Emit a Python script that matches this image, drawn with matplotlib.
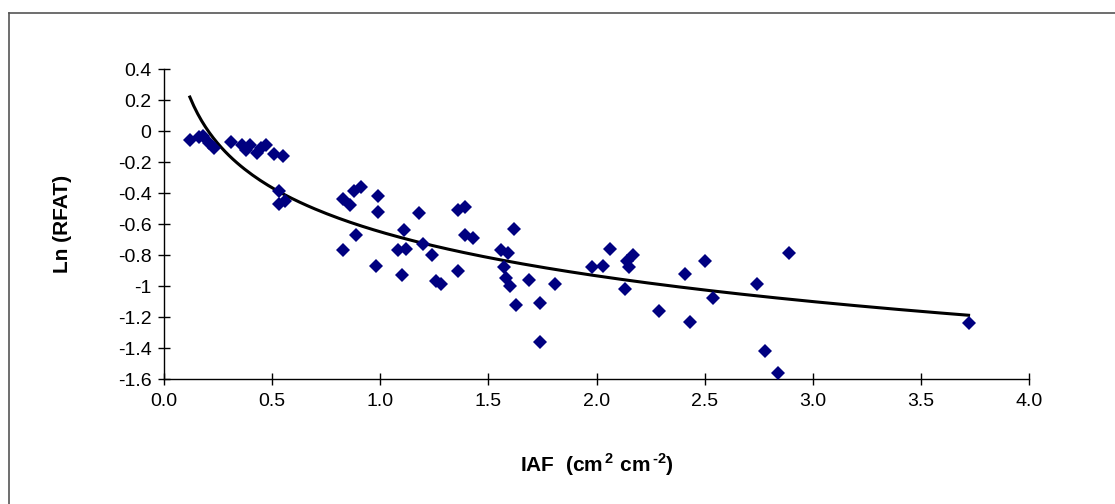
import numpy as np
import matplotlib
matplotlib.use("Agg")
import matplotlib.pyplot as plt
from matplotlib.lines import Line2D

plt.rcParams['font.family'] = ['Liberation Sans', 'DejaVu Sans']
plt.rcParams['mathtext.fontset'] = 'custom'
plt.rcParams['mathtext.rm'] = 'Liberation Sans:bold'
plt.rcParams['mathtext.bf'] = 'Liberation Sans:bold'

# IAF (cm2 cm-2) and Ln(RFAT)
iaf = [0.12, 0.16, 0.18, 0.21, 0.23, 0.31, 0.36, 0.38, 0.40, 0.43, 0.45, 0.47,
       0.51, 0.55, 0.53, 0.53, 0.56, 0.83, 0.86, 0.88, 0.91, 0.99, 0.99, 1.18,
       1.11, 0.83, 0.89, 0.98, 1.08, 1.12, 1.10, 1.20, 1.24, 1.26, 1.28, 1.36,
       1.36, 1.39, 1.39, 1.43, 1.62, 1.56, 1.59, 1.57, 1.58, 1.60, 1.63, 1.69,
       1.74, 1.74, 1.81, 1.98, 2.03, 2.06, 2.14, 2.17, 2.15, 2.13, 2.29, 2.41,
       2.43, 2.50, 2.54, 2.74, 2.78, 2.84, 2.89, 3.72]
ln_rfat = [-0.06, -0.04, -0.03, -0.08, -0.11, -0.07, -0.09, -0.12, -0.09, -0.14, -0.11, -0.09,
           -0.15, -0.16, -0.39, -0.47, -0.45, -0.44, -0.48, -0.39, -0.36, -0.42, -0.52, -0.53,
           -0.64, -0.77, -0.67, -0.87, -0.77, -0.76, -0.93, -0.73, -0.80, -0.97, -0.99, -0.51,
           -0.90, -0.49, -0.67, -0.69, -0.63, -0.77, -0.79, -0.88, -0.95, -1.00, -1.12, -0.96,
           -1.11, -1.36, -0.99, -0.88, -0.87, -0.76, -0.84, -0.80, -0.88, -1.02, -1.16, -0.92,
           -1.23, -0.84, -1.08, -0.99, -1.42, -1.56, -0.79, -1.24]

# logarithmic trendline y = a*ln(x) + b, coefficients
trend_a = -0.41
trend_b = -0.65

x_ticks = [0.0, 0.5, 1.0, 1.5, 2.0, 2.5, 3.0, 3.5, 4.0]
x_tick_labels = ["0.0", "0.5", "1.0", "1.5", "2.0", "2.5", "3.0", "3.5", "4.0"]
y_ticks = [0.4, 0.2, 0, -0.2, -0.4, -0.6, -0.8, -1, -1.2, -1.4, -1.6]
y_tick_labels = ["0.4", "0.2", "0", "-0.2", "-0.4", "-0.6", "-0.8", "-1", "-1.2", "-1.4", "-1.6"]

x = np.array(iaf)
y = np.array(ln_rfat)
xs = np.linspace(x.min(), x.max(), 200)
ys = trend_a * np.log(xs) + trend_b

fig = plt.figure(figsize=(11.15, 5.04), dpi=100)
ax = fig.add_axes([0.147, 0.248, 0.776, 0.615])

ax.plot(x, y, linestyle='none', marker='D', markersize=7.4,
        markerfacecolor='#000080', markeredgewidth=0, zorder=3)
ax.plot(xs, ys, color='black', linewidth=2.2, zorder=2)

ax.set_xlim(0, 4.0)
ax.set_ylim(-1.6, 0.4)
ax.set_xticks(x_ticks)
ax.set_xticklabels(x_tick_labels)
ax.set_yticks(y_ticks)
ax.set_yticklabels(y_tick_labels)

ax.spines['top'].set_visible(False)
ax.spines['right'].set_visible(False)
for s in ('left', 'bottom'):
    ax.spines[s].set_linewidth(1.0)
ax.tick_params(axis='both', direction='inout', length=8, width=1.0,
               labelsize=14, colors='black')
ax.tick_params(axis='x', pad=6)
ax.tick_params(axis='y', pad=5)

ax.set_xlabel(r"IAF  (cm$^{\,2}$ cm$^{\,\text{-}2}$)", fontsize=15,
              fontweight='bold', labelpad=30)
ax.set_ylabel("Ln (RFAT)", fontsize=15, fontweight='bold', labelpad=33)

# chart-area border (left and top edges show in the picture)
fig.add_artist(Line2D([9 / 1115, 9 / 1115], [1 - 13 / 504, 0], color='#555555',
                      linewidth=1.2, transform=fig.transFigure))
fig.add_artist(Line2D([9 / 1115, 1], [1 - 13 / 504, 1 - 13 / 504], color='#555555',
                      linewidth=1.2, transform=fig.transFigure))

fig.savefig("out.png", dpi=100)
